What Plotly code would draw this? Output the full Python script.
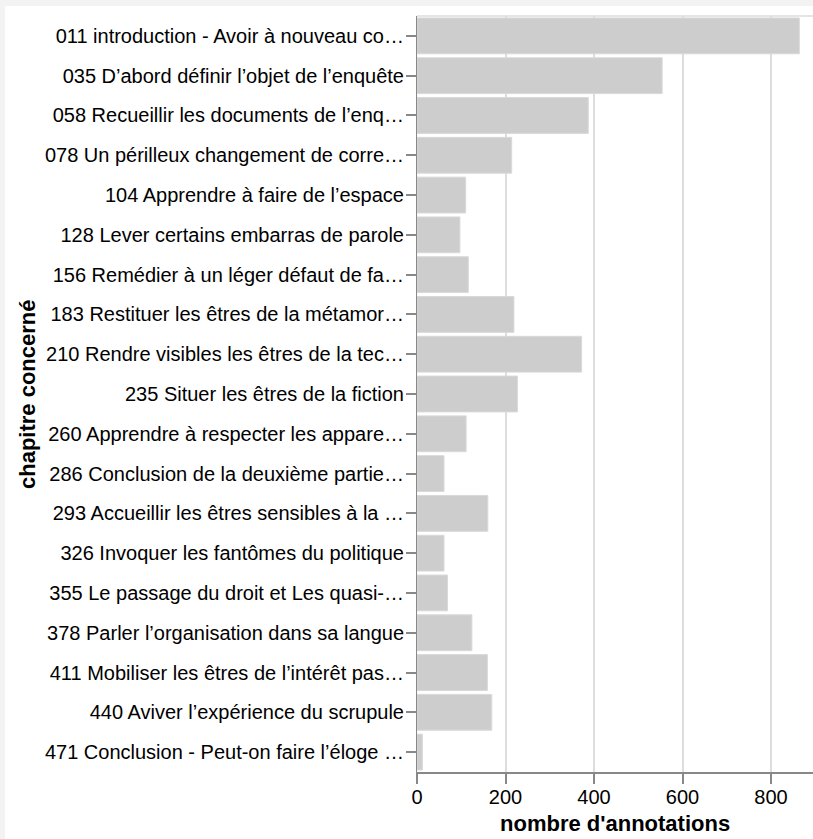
import plotly.graph_objects as go

chapitres = [
    "011 introduction - Avoir à nouveau co…",
    "035 D’abord définir l’objet de l’enquête",
    "058 Recueillir les documents de l’enq…",
    "078 Un périlleux changement de corre…",
    "104 Apprendre à faire de l’espace",
    "128 Lever certains embarras de parole",
    "156 Remédier à un léger défaut de fa…",
    "183 Restituer les êtres de la métamor…",
    "210 Rendre visibles les êtres de la tec…",
    "235 Situer les êtres de la fiction",
    "260 Apprendre à respecter les appare…",
    "286 Conclusion de la deuxième partie…",
    "293 Accueillir les êtres sensibles à la …",
    "326 Invoquer les fantômes du politique",
    "355 Le passage du droit et Les quasi-…",
    "378 Parler l’organisation dans sa langue",
    "411 Mobiliser les êtres de l’intérêt pas…",
    "440 Aviver l’expérience du scrupule",
    "471 Conclusion - Peut-on faire l’éloge …",
]
annotations_count = [864, 554, 387, 214, 110, 97, 116, 219, 372, 227,
                     111, 61, 160, 61, 69, 124, 159, 169, 12]
x_ticks = [0, 200, 400, 600, 800]

W, H = 813, 839
ml, mr, mt, mb = 417, 0, 16, 67
pw, ph = W - ml - mr, H - mt - mb

font = 'Liberation Sans, Arial, Helvetica, sans-serif'

fig = go.Figure()
fig.add_trace(go.Bar(x=annotations_count, y=chapitres, orientation='h',
                     marker=dict(color='#cdcdcd', line=dict(color='#d9d9d9', width=1)),
                     hoverinfo='x+y'))

# fond gris de la page et cadre blanc du graphique
fig.add_shape(type='rect', xref='paper', yref='paper',
              x0=(5 - ml) / pw, x1=1.01, y0=-mb / ph - 0.01, y1=(ph + mt - 6) / ph,
              fillcolor='white', line_width=0, layer='below')
fig.add_shape(type='line', xref='paper', yref='paper', x0=0, x1=1, y0=1, y1=1,
              line=dict(color='#dddddd', width=1.5), layer='below')

fig.update_xaxes(range=[0, pw / (354 / 800)], tickvals=x_ticks, showgrid=True,
                 gridcolor='#dddddd', gridwidth=1.5, zeroline=False,
                 showline=True, linecolor='#888888', linewidth=1.5,
                 ticks='outside', ticklen=10, tickwidth=1.5, tickcolor='#888888',
                 ticklabelstandoff=-4,
                 tickfont=dict(size=20, color='#000000', family=font))
fig.update_yaxes(autorange='reversed', showgrid=False, showline=True,
                 linecolor='#888888', linewidth=1, layer='below traces',
                 ticks='outside', ticklen=10, tickwidth=1.5, tickcolor='#888888',
                 ticklabelstandoff=-2,
                 tickfont=dict(size=20, color='#000000', family=font))

fig.add_annotation(text="<b>nombre d'annotations</b>", xref='paper', yref='paper',
                   x=0.5, y=-(823 - mt - ph) / ph, xanchor='center', yanchor='middle',
                   showarrow=False, font=dict(size=22, color='#000000', family=font))
fig.add_annotation(text='<b>chapitre concerné</b>', xref='paper', yref='paper',
                   x=(27 - ml) / pw, y=0.5, xanchor='center', yanchor='middle',
                   textangle=-90, showarrow=False,
                   font=dict(size=22, color='#000000', family=font))

fig.update_layout(width=W, height=H, margin=dict(l=ml, r=mr, t=mt, b=mb),
                  paper_bgcolor='#f3f3f3', plot_bgcolor='white',
                  bargap=0.1, showlegend=False)

fig.write_html("out.html", config={'displayModeBar': False},
               post_script="document.body.style.margin = '0';")
